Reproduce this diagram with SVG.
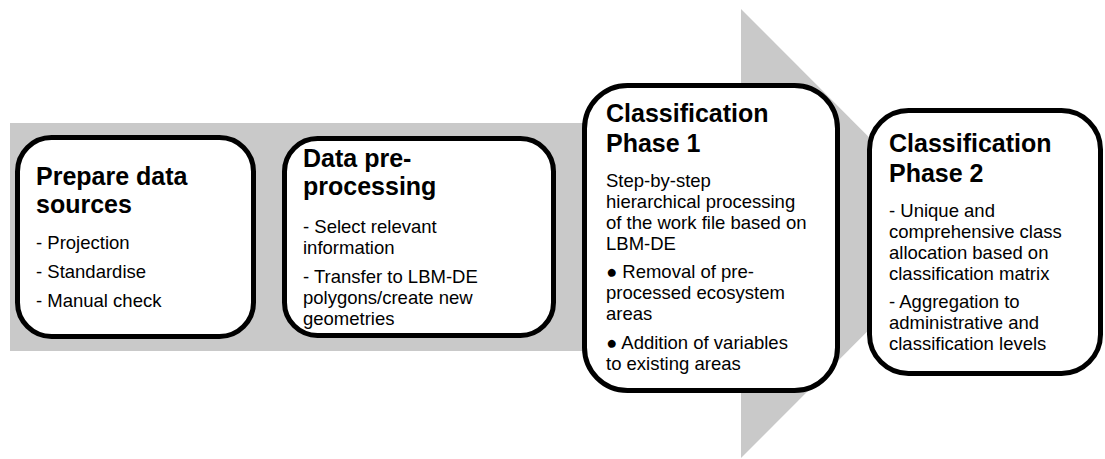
<svg xmlns="http://www.w3.org/2000/svg" width="1105" height="459" viewBox="0 0 1105 459">
<style>
.bg{fill:#c9c9c9;stroke:none}
.box{fill:#ffffff;stroke:#000000;stroke-width:5}
.t{font-family:"Liberation Sans",Arial,sans-serif;font-weight:bold;font-size:25px;fill:#000}
.b{font-family:"Liberation Sans",Arial,sans-serif;font-size:18.5px;fill:#000}
</style>
<rect width="1105" height="459" fill="#ffffff"/>
<g id="connectors">
<rect class="bg" x="10" y="123" width="732" height="228"/>
<polygon class="bg" points="741,9 965,233.5 741,458"/>
</g>
<g id="node1">
<rect class="box" x="17.5" y="137.5" width="236" height="199" rx="34" ry="34"/>
<text class="t" x="36" y="185">Prepare data</text>
<text class="t" x="36" y="213">sources</text>
<text class="b" x="36" y="249">- Projection</text>
<text class="b" x="36" y="278">- Standardise</text>
<text class="b" x="36" y="307">- Manual check</text>
</g>
<g id="node2">
<rect class="box" x="284.5" y="138.5" width="269" height="197" rx="33" ry="33"/>
<text class="t" x="303" y="167">Data pre-</text>
<text class="t" x="303" y="195">processing</text>
<text class="b" x="303" y="233">- Select relevant</text>
<text class="b" x="303" y="254">information</text>
<text class="b" x="303" y="283">- Transfer to LBM-DE</text>
<text class="b" x="303" y="304">polygons/create new</text>
<text class="b" x="303" y="325">geometries</text>
</g>
<g id="node3">
<rect class="box" x="584.5" y="85.5" width="253" height="305" rx="43" ry="43"/>
<text class="t" x="606" y="122">Classification</text>
<text class="t" x="606" y="152">Phase 1</text>
<text class="b" x="606" y="187">Step-by-step</text>
<text class="b" x="606" y="208">hierarchical processing</text>
<text class="b" x="606" y="229">of the work file based on</text>
<text class="b" x="606" y="250">LBM-DE</text>
<text class="b" x="606" y="278">● Removal of pre-</text>
<text class="b" x="606" y="299">processed ecosystem</text>
<text class="b" x="606" y="320">areas</text>
<text class="b" x="606" y="349">● Addition of variables</text>
<text class="b" x="606" y="370">to existing areas</text>
</g>
<g id="node4">
<rect class="box" x="869.5" y="110.5" width="231" height="263" rx="39" ry="39"/>
<text class="t" x="889" y="152">Classification</text>
<text class="t" x="889" y="182">Phase 2</text>
<text class="b" x="889" y="217">- Unique and</text>
<text class="b" x="889" y="238">comprehensive class</text>
<text class="b" x="889" y="259">allocation based on</text>
<text class="b" x="889" y="280">classification matrix</text>
<text class="b" x="889" y="308">- Aggregation to</text>
<text class="b" x="889" y="329">administrative and</text>
<text class="b" x="889" y="350">classification levels</text>
</g>
</svg>
